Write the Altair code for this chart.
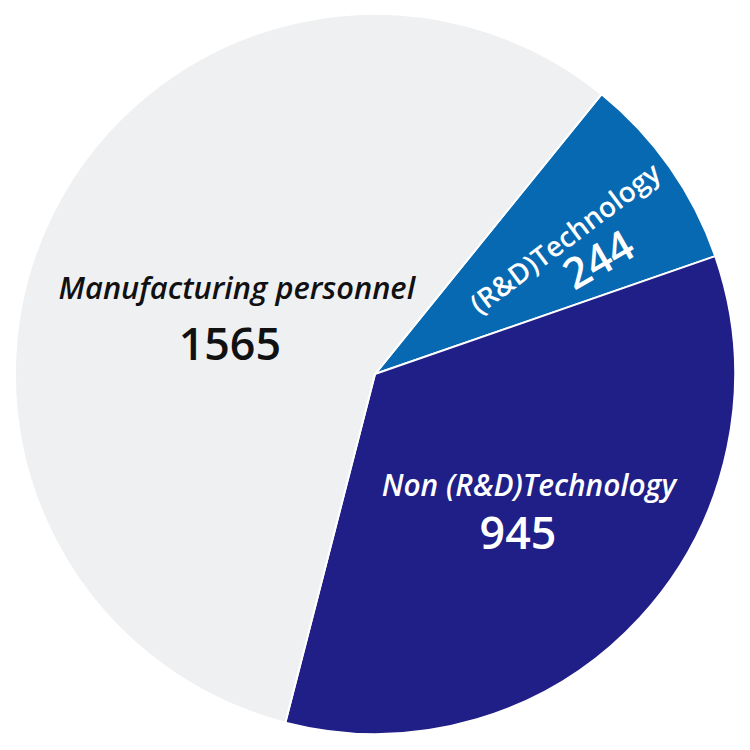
import altair as alt
import pandas as pd
import math

categories = ["(R&D)Technology", "Non (R&D)Technology", "Manufacturing personnel"]
values = [244, 945, 1565]
order = [1, 2, 3]
colors = ["#0669B2", "#201E87", "#EFF0F2"]

df = pd.DataFrame({"category": categories, "value": values, "order": order})
total = sum(values)
start = math.radians(39)
theta_scale = alt.Scale(domain=[0, total], range=[start, start + 2 * math.pi])

FONT = "Open Sans"

base = (
    alt.Chart(df)
    .transform_stack(stack="value", groupby=[], as_=["v0", "v1"],
                     sort=[alt.SortField("order", order="ascending")])
    .transform_calculate(mid="(datum.v0 + datum.v1) / 2")
)

arcs = base.mark_arc(outerRadius=362, stroke="white", strokeWidth=2).encode(
    theta=alt.Theta("v0:Q", scale=theta_scale),
    theta2="v1:Q",
    color=alt.Color("category:N", scale=alt.Scale(domain=categories, range=colors), legend=None),
)

def label(cat, field, radius, dx, dy, size, color, italic, weight, angle=0):
    kw = dict(radius=radius, dx=dx, dy=dy, fontSize=size, color=color, font=FONT,
              fontWeight=weight, align="center", baseline="middle")
    if italic:
        kw["fontStyle"] = "italic"
    if angle:
        kw["angle"] = angle
    enc_text = alt.Text("value:Q", format="d") if field == "value" else alt.Text("category:N")
    return (
        base.transform_filter(alt.datum.category == cat)
        .mark_text(**kw)
        .encode(theta=alt.Theta("mid:Q", scale=theta_scale), text=enc_text)
    )

layers = [
    arcs,
    label("Manufacturing personnel", "category", 160, 4, -12, 31, "#111111", True, 600),
    label("Manufacturing personnel", "value", 160, -3, 44, 45, "#111111", False, 600),
    label("Non (R&D)Technology", "category", 190, 15, -15, 30, "white", True, 600),
    label("Non (R&D)Technology", "value", 190, 4, 33, 45, "white", False, 600),
    label("(R&D)Technology", "category", 235, 0, 0, 28, "white", False, 600, angle=323),
    label("(R&D)Technology", "value", 250, 3, 37, 43, "white", False, 600, angle=330),
]

chart = (
    alt.layer(*layers)
    .properties(width=738, height=732, autosize=alt.AutoSizeParams(type="none"), padding=0,
                background="white")
    .configure_view(stroke=None)
)

chart.save("out.html", embed_options={"renderer": "svg", "actions": False})
